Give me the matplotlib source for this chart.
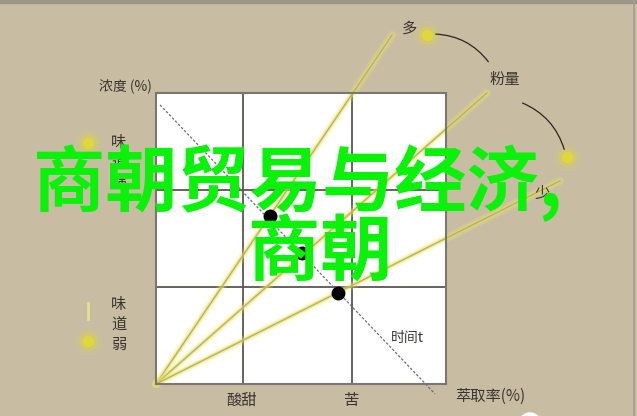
import matplotlib.pyplot as plt
from matplotlib.patches import FancyArrowPatch, Circle

plt.rcParams['font.family'] = ['Noto Sans CJK SC', 'DejaVu Sans']

W, H = 637, 416

# chart values (percent of the chart box)
x_grid = [30, 67.5]
y_grid = [33.5, 66.7]

# yellow rays from the origin, end points
ray_x = [81.4, 114.1, 139.3]
ray_y = [119.9, 100.0, 69.8]

# dashed time line
time_x = [1.4, 96.2]
time_y = [95.9, -3.4]

# black points on the time line
dot_x = [39.3, 50.3, 62.8]
dot_y = [57.7, 45.0, 31.3]

# yellow marker dots around the chart (pixels)
glow_x = [427, 567, 88, 88]
glow_y = [35, 157, 143, 341]

bg = '#c8bda2'
ink = '#3a3530'

fig = plt.figure(figsize=(W / 100, H / 100), dpi=100, facecolor=bg)

# overlay in pixel space for decorations
ov = fig.add_axes([0, 0, 1, 1], zorder=0)
ov.set_xlim(0, W)
ov.set_ylim(H, 0)
ov.axis('off')
ov.fill_between([0, W], 0, 2.5, color='#9c968a')
ov.plot([634, 634], [0, H], color='#a49e92', lw=1.2)

for s, a in [(380, 0.1), (180, 0.28), (65, 0.8)]:
    ov.scatter(glow_x, glow_y, s=s, color='#e4dc2a', alpha=a, lw=0)
ov.plot([88, 88], [303, 319], color='#ece890', lw=2, alpha=0.8)

for p0, p1 in [((433, 34), (490, 64)), ((520, 102), (565, 152))]:
    ov.add_patch(FancyArrowPatch(p0, p1, arrowstyle='-', connectionstyle='arc3,rad=-0.25',
                                 color='#2a2622', lw=0.9))
ov.add_patch(Circle((530, 424), 11, color='white'))

# chart box
ax = fig.add_axes([156 / W, (H - 384) / H, 290 / W, 291 / H], zorder=1)
ax.set_xlim(0, 100)
ax.set_ylim(0, 100)
ax.set_facecolor('white')
ax.set_xticks([])
ax.set_yticks([])
for sp in ax.spines.values():
    sp.set_color('#7a7672')
    sp.set_linewidth(1.5)
for g in x_grid:
    ax.axvline(g, color='#5a5652', lw=1.3)
for g in y_grid:
    ax.axhline(g, color='#5a5652', lw=1.3)

for rx, ry in zip(ray_x, ray_y):
    ax.plot([0, rx], [0, ry], color='#f2ee70', lw=6, alpha=0.2, clip_on=False, solid_capstyle='round')
    ax.plot([0, rx], [0, ry], color='#e6e050', lw=3, alpha=0.5, clip_on=False, solid_capstyle='round')
    ax.plot([0, rx], [0, ry], color='#b8b070', lw=1.0, clip_on=False)

ax.plot(time_x, time_y, color='#6a6a80', lw=0.9, ls=(0, (2, 1.5)), clip_on=False)
ax.plot(dot_x, dot_y, 'o', color='black', ms=9, ls='none')

def lab(x, y, s, size=11, **kw):
    fig.text(x / W, 1 - y / H, s, fontsize=size, color=ink, ha='center', va='center', **kw)

lab(125, 87, '浓度 (%)', size=10)
lab(409, 28, '多')
lab(505, 79, '粉量')
lab(542, 193, '少')
for i, c in enumerate('味道强'):
    lab(119, 143 + i * 20, c)
for i, c in enumerate('味道弱'):
    lab(119, 304 + i * 20, c)
lab(242, 400, '酸甜')
lab(352, 400, '苦')
lab(490, 396, '萃取率(%)')
lab(407, 338, '时间t', size=10)

green = '#0af20a'
fig.text(33 / W, 1 - 183 / H, '商朝贸易与经济,', fontsize=52, fontweight='bold',
         color=green, ha='left', va='center', zorder=5)
fig.text(248 / W, 1 - 254 / H, '商朝', fontsize=52, fontweight='bold',
         color=green, ha='left', va='center', zorder=5)

fig.savefig('out.png', dpi=100, facecolor=bg)
